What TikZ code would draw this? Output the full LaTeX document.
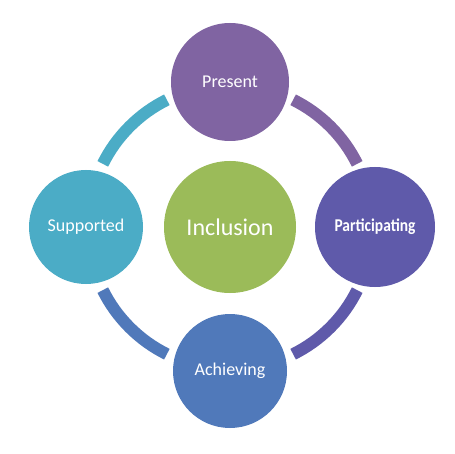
\documentclass[tikz,border=0pt]{standalone}
\usepackage{fontspec}
\setmainfont{Carlito}
\usetikzlibrary{calc}
\definecolor{cPres}{HTML}{8064A2}
\definecolor{cPart}{HTML}{5F5AAA}
\definecolor{cAch}{HTML}{5079BA}
\definecolor{cSup}{HTML}{4BACC6}
\definecolor{cInc}{HTML}{9BBB59}
\begin{document}
\begin{tikzpicture}[
  bubble/.style={circle, inner sep=0pt, text=white, font=\fontsize{18}{20}\selectfont},
  ringarc/.style={line width=12pt, line cap=butt}
]
\useasboundingbox[fill=white] (0,0) rectangle (455pt,453pt);
\coordinate (c) at (230pt,226pt);
% ring segments
\draw[ringarc, cPres] ($(c)+(26.4:142pt)$) arc[start angle=26.4, end angle=63.6, radius=142pt];
\draw[ringarc, cSup]  ($(c)+(116.4:142pt)$) arc[start angle=116.4, end angle=153.6, radius=142pt];
\draw[ringarc, cAch]  ($(c)+(206.4:142pt)$) arc[start angle=206.4, end angle=243.6, radius=142pt];
\draw[ringarc, cPart] ($(c)+(296.4:142pt)$) arc[start angle=296.4, end angle=333.6, radius=142pt];
% circles
\node[bubble, fill=cInc, minimum size=132pt, font=\fontsize{24}{28}\selectfont] (inc) at (c) {Inclusion};
\node[bubble, fill=cPres, minimum size=118pt] (pres) at (230pt,371pt) {Present};
\node[bubble, fill=cPart, minimum size=120pt] (part) at (375pt,226pt) {\scalebox{0.86}[1]{\bfseries Participating}};
\node[bubble, fill=cAch, minimum size=114pt] (ach) at (230pt,82pt) {Achieving};
\node[bubble, fill=cSup, minimum size=114pt] (sup) at (86pt,226pt) {Supported};
\end{tikzpicture}
\end{document}
